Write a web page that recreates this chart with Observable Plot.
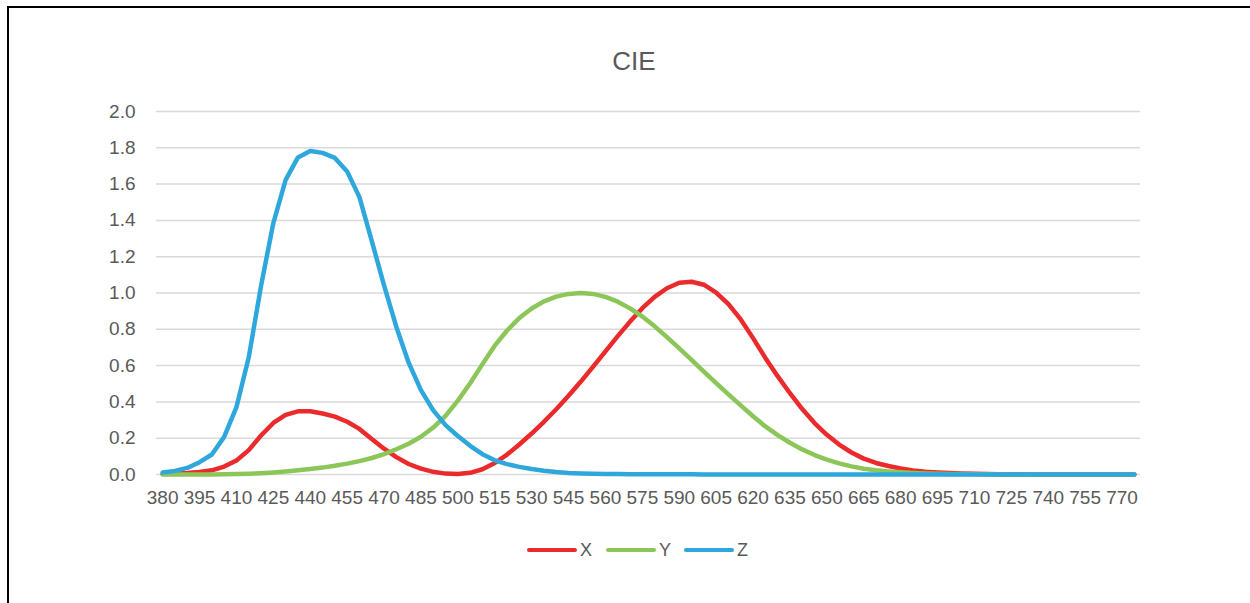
<!DOCTYPE html>
<html>
<head>
<meta charset="utf-8">
<script src="https://cdn.jsdelivr.net/npm/d3@7"></script>
<script src="https://cdn.jsdelivr.net/npm/@observablehq/plot@0.6"></script>
<style>
  html, body { margin: 0; padding: 0; background: #fff; width: 1250px; height: 603px; overflow: hidden; }
  #frame { position: absolute; left: 7px; top: 6px; width: 1400px; height: 800px; border-top: 2px solid #000; border-left: 2px solid #000; }
  #title { position: absolute; left: 0; width: 1268px; top: 46px; text-align: center; font-family: "Liberation Sans", sans-serif; font-size: 26px; color: #595959; }
  #chart { position: absolute; left: 0; top: 0; }
  #legend { position: absolute; top: 540px; left: 0; height: 20px; font-family: "Liberation Sans", sans-serif; font-size: 18px; color: #595959; }
  .item { position: absolute; top: 0; display: flex; align-items: center; height: 20px; }
  .sw { width: 50px; height: 4.5px; border-radius: 2.25px; margin-right: 3px; }
</style>
</head>
<body>
<div id="frame"></div>
<div id="chart"></div>
<div id="title">CIE</div>
<div id="legend"></div>
<script>
const wavelengths = [380,385,390,395,400,405,410,415,420,425,430,435,440,445,450,455,460,465,470,475,480,485,490,495,500,505,510,515,520,525,530,535,540,545,550,555,560,565,570,575,580,585,590,595,600,605,610,615,620,625,630,635,640,645,650,655,660,665,670,675,680,685,690,695,700,705,710,715,720,725,730,735,740,745,750,755,760,765,770,775];
const xBar = [0.002236,0.004243,0.00765,0.01431,0.02319,0.04351,0.07763,0.13438,0.21477,0.2839,0.3285,0.34828,0.34806,0.3362,0.3187,0.2908,0.2511,0.19536,0.1421,0.09564,0.05795,0.03201,0.0147,0.0049,0.0024,0.0093,0.0291,0.06327,0.1096,0.1655,0.22575,0.2904,0.3597,0.43345,0.51205,0.5945,0.6784,0.7621,0.8425,0.9163,0.9786,1.0263,1.0567,1.0622,1.0456,1.0026,0.9384,0.85445,0.7514,0.6424,0.5419,0.4479,0.3608,0.2835,0.2187,0.1649,0.1212,0.0874,0.0636,0.04677,0.0329,0.0227,0.01584,0.011359,0.008111,0.00579,0.004109,0.002899,0.002049,0.00144,0.001,0.00069,0.000476,0.000332,0.000235,0.000166,0.000117,0.000083,0.000059,0.000042];
const yBar = [0.000064,0.00012,0.000217,0.000396,0.00064,0.00121,0.00218,0.004,0.0073,0.0116,0.01684,0.023,0.0298,0.038,0.048,0.06,0.0739,0.09098,0.1126,0.13902,0.1693,0.20802,0.2586,0.323,0.4073,0.503,0.6082,0.71,0.7932,0.862,0.91485,0.954,0.9803,0.99495,1.0,0.995,0.9786,0.952,0.9154,0.87,0.8163,0.757,0.6949,0.631,0.5668,0.503,0.4412,0.381,0.321,0.265,0.217,0.175,0.1382,0.107,0.0816,0.061,0.04458,0.032,0.0232,0.017,0.01192,0.00821,0.005723,0.004102,0.002929,0.002091,0.001484,0.001047,0.00074,0.00052,0.000361,0.000249,0.000172,0.00012,0.000085,0.00006,0.000042,0.00003,0.000021,0.000015];
const zBar = [0.01055,0.02005,0.03621,0.06785,0.1102,0.2074,0.3713,0.6456,1.03905,1.3856,1.62296,1.74706,1.7826,1.77211,1.7441,1.6692,1.5281,1.28764,1.0419,0.81295,0.6162,0.46518,0.3533,0.272,0.2123,0.1582,0.1117,0.07825,0.05725,0.04216,0.02984,0.0203,0.0134,0.00875,0.00575,0.0039,0.00275,0.0021,0.0018,0.00165,0.0014,0.0011,0.001,0.0008,0.0006,0.00034,0.00024,0.00019,0.0001,0.00005,0.00003,0.00002,0.00001,0,0,0,0,0,0,0,0,0,0,0,0,0,0,0,0,0,0,0,0,0,0,0,0,0,0,0];
const seriesNames = ["X", "Y", "Z"];
const seriesColors = ["#EA2A2B", "#8CC659", "#2EA7DD"];
const yTicks = [0, 0.2, 0.4, 0.6, 0.8, 1.0, 1.2, 1.4, 1.6, 1.8, 2.0];
const xTickLabels = wavelengths.filter((d, i) => i % 3 === 0);

const seriesValues = [xBar, yBar, zBar];
const rows = [];
seriesNames.forEach((s, k) => {
  wavelengths.forEach((w, i) => rows.push({series: s, wl: w, v: seriesValues[k][i]}));
});

const font = '"Liberation Sans", sans-serif';
const plot = Plot.plot({
  width: 1250,
  height: 520,
  marginLeft: 156,
  marginRight: 110,
  marginTop: 111,
  marginBottom: 46,
  style: {fontFamily: font, fontSize: "19px", color: "#595959", background: "transparent"},
  x: {type: "point", domain: wavelengths, padding: 0.5, round: false},
  y: {domain: [0, 2]},
  color: {domain: seriesNames, range: seriesColors},
  marks: [
    Plot.gridY(yTicks, {stroke: "#d9d9d9", strokeOpacity: 1, strokeWidth: 1.5}),
    Plot.axisY(yTicks, {tickSize: 0, tickPadding: 21, tickFormat: d3.format(".1f"), label: null, fill: "#595959", fontSize: 19}),
    Plot.axisX(xTickLabels, {tickSize: 0, tickPadding: 16, label: null, fill: "#595959", fontSize: 19}),
    Plot.line(rows, {x: "wl", y: "v", z: "series", stroke: "series", strokeWidth: 4.5, strokeLinecap: "round", strokeLinejoin: "round"})
  ]
});
document.getElementById("chart").appendChild(plot);

const legend = document.getElementById("legend");
const legendX = [527, 606, 684];
seriesNames.forEach((s, k) => {
  const item = document.createElement("div");
  item.className = "item";
  item.style.left = legendX[k] + "px";
  const sw = document.createElement("div");
  sw.className = "sw";
  sw.style.background = seriesColors[k];
  const t = document.createElement("span");
  t.textContent = s;
  item.appendChild(sw);
  item.appendChild(t);
  legend.appendChild(item);
});
</script>
</body>
</html>
